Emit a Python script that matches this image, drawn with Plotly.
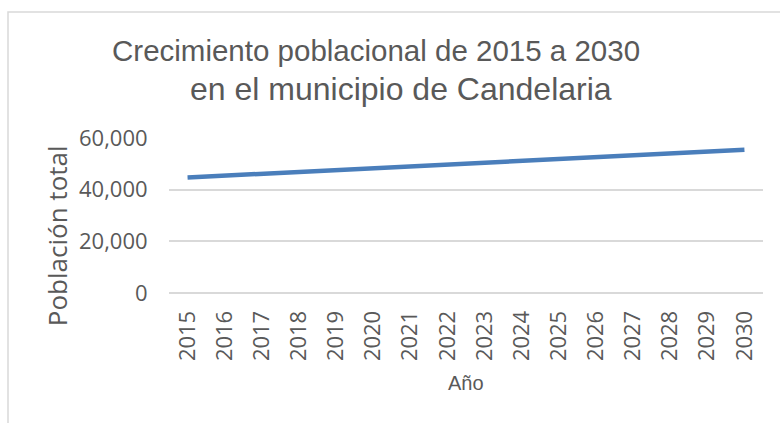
import plotly.graph_objects as go

years = [str(y) for y in range(2015, 2031)]
poblacion = [44700, 45400, 46150, 46850, 47600, 48300, 49000, 49700,
             50450, 51150, 51850, 52550, 53300, 54000, 54750, 55450]
y_ticks = [0, 20000, 40000, 60000]
y_tick_text = ["0", "20,000", "40,000", "60,000"]

title_line1 = "Crecimiento poblacional de 2015 a 2030"
title_line2 = "en el municipio de Candelaria"
x_title = "Año"
y_title = "Población total"

W, H = 780, 423
L, R, T, B = 169, 763, 137.5, 293
pw, ph = R - L, B - T

def px(x):
    return (x - L) / pw

def py(y):
    return (B - y) / ph

grey = "#595959"
grid = "#d9d9d9"
tick_font = dict(family="Open Sans, sans-serif", size=22, color=grey)
title_family = "Liberation Sans, Arial, sans-serif"

fig = go.Figure()
fig.add_trace(go.Scatter(x=years, y=poblacion, mode="lines",
                         line=dict(color="#4a7ebb", width=4.5),
                         hoverinfo="x+y", showlegend=False))

fig.update_layout(
    width=W, height=H,
    margin=dict(l=L, r=W - R, t=T, b=H - B, pad=0, autoexpand=False),
    paper_bgcolor="white", plot_bgcolor="white",
    xaxis=dict(type="category", range=[-0.5, len(years) - 0.5], automargin=False,
               tickangle=-90, tickfont=tick_font,
               showgrid=False, showline=False, zeroline=False,
               ticks="outside", ticklen=8, tickcolor="rgba(0,0,0,0)"),
    yaxis=dict(range=[0, 60000], tickvals=y_ticks, ticktext=y_tick_text, automargin=False,
               tickfont=tick_font, showgrid=True, gridcolor=grid, gridwidth=1.5,
               zeroline=True, zerolinecolor=grid, zerolinewidth=1.5,
               showline=False, ticks="outside", ticklen=16, tickcolor="rgba(0,0,0,0)"),
    shapes=[dict(type="rect", xref="paper", yref="paper",
                 x0=px(8), x1=px(790), y0=py(440), y1=py(11),
                 line=dict(color=grid, width=1.5), fillcolor="rgba(0,0,0,0)", layer="below")],
    annotations=[
        dict(text=title_line1, xref="paper", yref="paper", x=px(376), y=py(50),
             xanchor="center", yanchor="middle", showarrow=False,
             font=dict(family=title_family, size=29.5, color=grey)),
        dict(text=title_line2, xref="paper", yref="paper", x=px(401), y=py(88),
             xanchor="center", yanchor="middle", showarrow=False,
             font=dict(family=title_family, size=32, color=grey)),
        dict(text=x_title, xref="paper", yref="paper", x=px(466), y=py(383),
             xanchor="center", yanchor="middle", showarrow=False,
             font=dict(family="Liberation Sans, Arial, sans-serif", size=20, color=grey)),
        dict(text=y_title, xref="paper", yref="paper", x=px(57), y=py(236),
             xanchor="center", yanchor="middle", showarrow=False, textangle=-90,
             font=dict(family="Open Sans, sans-serif", size=26, color=grey)),
    ],
)

fig.write_html("out.html", config={"displayModeBar": False},
               post_script="document.body.style.margin='0';document.body.style.padding='0';")
